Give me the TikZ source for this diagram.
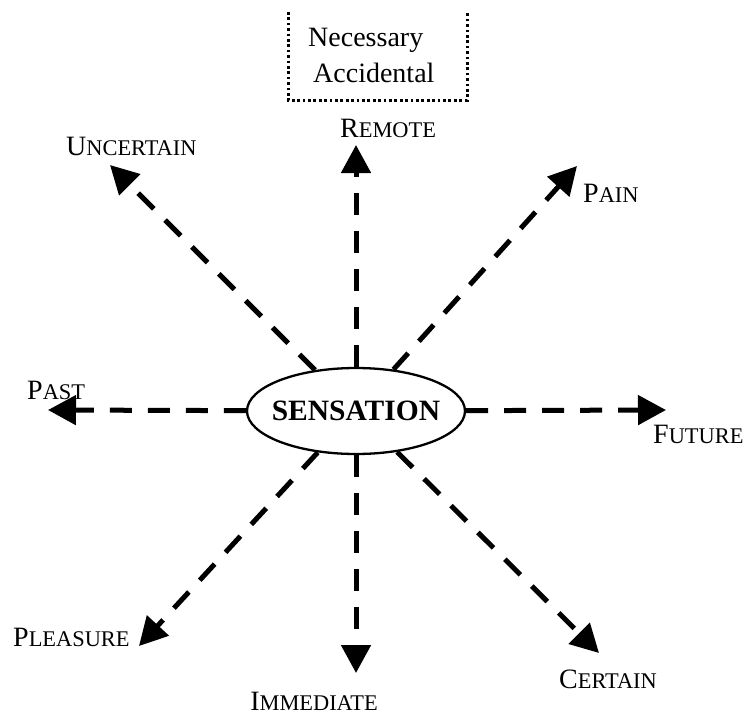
\documentclass[tikz,border=0pt]{standalone}
\usepackage{fontspec}
\setmainfont{Liberation Serif}
\usetikzlibrary{arrows.meta,shapes.geometric}
% small capitals: first letter full size, the rest reduced
\newcommand\capsc[2]{#1{\fontsize{22.4pt}{26pt}\selectfont #2}}
\begin{document}
\begin{tikzpicture}[x=1pt,y=-1pt,
  ray/.style={line width=5pt, dash pattern=on 22pt off 16pt,
              -{Triangle[length=28pt,width=29pt]}},
  lab/.style={font=\fontsize{28pt}{32pt}\selectfont, inner sep=0pt},
  hub/.style={draw, ellipse, line width=2.3pt, fill=white,
              minimum width=218pt, minimum height=86pt, inner sep=0pt},
  boxline/.style={line width=3pt, dash pattern=on 2.7pt off 2.7pt}]
\useasboundingbox (0,0) rectangle (747,717);

% central ellipse
\node[hub] (s) at (356,411) {};
\node[font=\bfseries\fontsize{29.5pt}{32pt}\selectfont, inner sep=0pt] (stxt) at (s.center) {SENSATION};

% arrow tips
\coordinate (tUp) at (356,145);
\coordinate (tDown) at (356,673);
\coordinate (tLeft) at (48,410);
\coordinate (tRight) at (666,410);
\coordinate (tUL) at (110,165);
\coordinate (tUR) at (577,166);
\coordinate (tLL) at (139,646);
\coordinate (tLR) at (599,653);

\foreach \t in {tUp,tDown,tLeft,tRight,tUL,tUR,tLL,tLR}
  \draw[ray] (s) -- (\t);

% labels
\node[lab, anchor=base west] (remote) at (340,137) {\capsc{R}{EMOTE}};
\node[lab, anchor=base east] (immediate) at (378,710) {\capsc{I}{MMEDIATE}};
\node[lab, anchor=base west] (past) at (27,399) {\capsc{P}{AST}};
\node[lab, anchor=base west] (future) at (653,443) {\capsc{F}{UTURE}};
\node[lab, anchor=base west] (uncertain) at (66,155) {\capsc{U}{NCERTAIN}};
\node[lab, anchor=base west] (pain) at (583,202) {\capsc{P}{AIN}};
\node[lab, anchor=base west] (pleasure) at (13,646) {\capsc{P}{LEASURE}};
\node[lab, anchor=base west] (certain) at (559,688) {\capsc{C}{ERTAIN}};

% dotted frame, open at the top
\node[lab, anchor=base west] (nec) at (308,47) {Necessary};
\node[lab, anchor=base west] (acc) at (313,82) {Accidental};
\draw[boxline] (288,12) -- (288,100) -- (467,100) -- (467,12);
\end{tikzpicture}
\end{document}
